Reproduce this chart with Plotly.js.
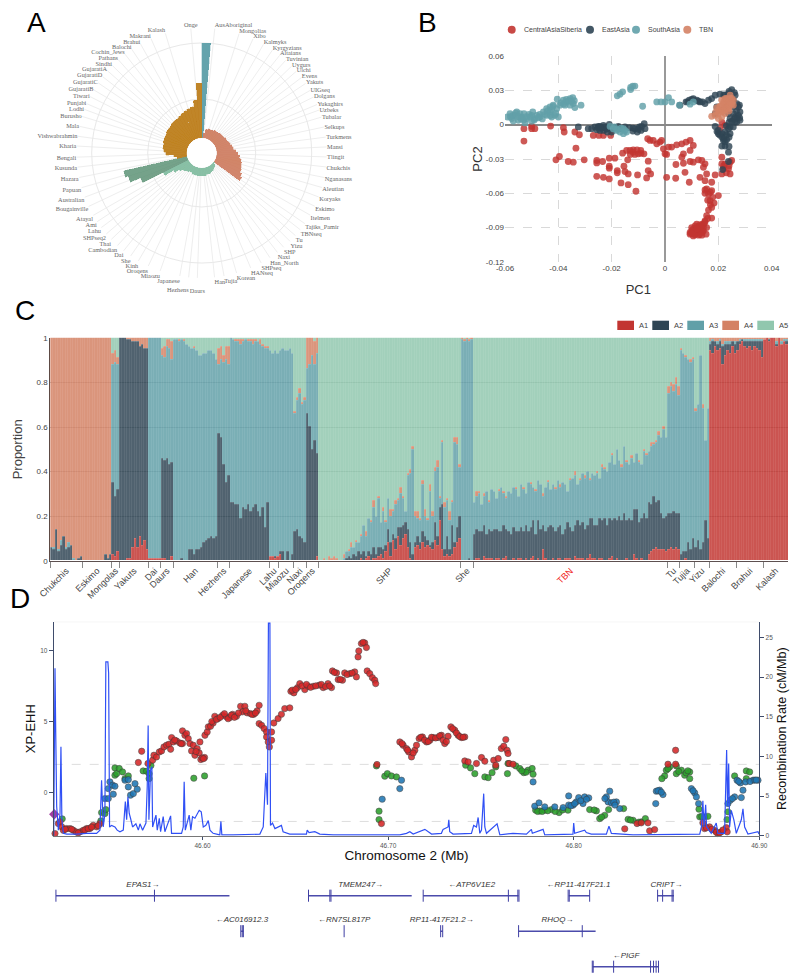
<!DOCTYPE html>
<html><head><meta charset="utf-8">
<script src="https://cdn.plot.ly/plotly-3.0.1.min.js"></script>
<style>html,body{margin:0;padding:0;background:#fff}</style></head>
<body><div id="chart" style="width:796px;height:980px"></div>
<script>
// ---- Panel A
const popNames=["AusAboriginal","Mongolias","Xibo","Kalmyks","Kyrgyzians","Altaians","Tuvinian","Uygurs","Ulchi","Evens","Yakuts","UIGseq","Dolgans","Yukaghirs","Uzbeks","Tubalar","Selkups","Turkmens","Mansi","Tlingit","Chukchis","Nganasans","Aleutian","Koryaks","Eskimo","Itelmen","Tajiks_Pamir","TBNseq","Tu","Yizu","SHP","Naxi","Han_North","SHPseq","HANseq","Korean","Tujia","Han","<br>Daurs","<br>Hezhens","Japanese","Miaozu","Oroqens","Kinh","She","Dai","Cambodian","Thai","SHPseq2","Lahu","Ami","Atayal","Bougainville","Australian","Papuan","Hazara","Kusunda","Bengali","Kharia","Vishwabrahmin","Mala","Burusho","Lodhi","Punjabi","Tiwari","GujaratiB","GujaratiC","GujaratiD","GujaratiA","Sindhi","Pathans","Cochin_Jews","Balochi","Brahui","Makrani","Kalash","Onge"];
const popAngles=[6,17.4,24.2,29.6,34.5,38.6,42.2,46,49.2,52.9,56.2,60,63.4,67.2,69.9,73.3,78,82.7,87.2,91.8,96.4,101.3,106,110.6,115.2,119.8,124.4,127.9,131.4,135,139,142.7,146.9,151.6,156.9,163.8,169.7,174.1,182,186,190.1,199.4,205.3,210.4,214.6,218.6,222.3,226.3,229.7,233.4,236.7,240.1,244.7,249.3,253.9,258.7,263.5,268.1,273.2,277.7,282.3,287,290.4,293.2,296.8,300.3,304.1,307.6,311.1,314.4,318.2,322.2,326,330.7,336.1,343.1,355];
const radTeal=[95];
const radSalmon=[5,9,10,10,10,11,11,11,12,12,12,13,13,14,15,16,17,19,21,23,25,26,27,28,30,32];
const radGreen=[1,3,4,5,6,6,7,7,7,8,8,8,8,8,8,8,8,7,7,8,9,10,13,18,28];
const radDarkGreen=[51,62,65];
const radBrown=[10,13,21,23,24,24,25,25,25,26,26,26,27,27,27,28,29,30,31,32,38,55];

// ---- Panel B (values x 1000)
const csX=[-52.9,-50,-52.9,-48.8,-50,-42.9,-38.1,-37.8,-33.8,-32.1,-33.4,-40.9,-39.6,-36.3,-34.4,-30.3,-25.6,-23.4,-25.6,-20.9,-18.8,-15.9,-20.9,-20.9,-25.6,-23.1,-20.9,-17.9,-17.9,-15.4,-15,-13.8,-16.5,-13.8,-10.3,-6.3,-5.4,-6.9,-10.9,-14,-14.4,-13.1,-11.9,-11.3,-10,-9.1,-7.9,-6.3,-26.9,-24.8,-23.1,-20.4,-6.5,-5.6,-4.4,-3.1,-1.9,-1.3,1.3,-.6,0,.6,2.5,4.4,6.3,7.9,9.4,10.6,9.4,6.9,6.3,9.4,10.6,12.5,13.8,15,14.4,4.1,6.9,7.5,.6,4,9.1,13.1,15,15.6,18.8,17.5,15.6,15,16.3,17.5,17.9,20,16.9,18.4,17.5,16.3,17.5,15.6,15,14.6,13.8,14.4,13.1,11.9,10.6,9.4,10,11.3,12.5,13.8,11.9,15.6,15.4,13.8,12.5,10.6,9.4,11.3,13.1,14.4,10.6,11.9,13.1,12.5,11.3,10,21.3,22.5,21.9,21.3,23.8,24.4,24.4,25,21.3,20.6,21.3,22.5,12,13,11,10,14,13,12,14,15,16,17,16,17,15,23,22,24,-12,-10.5,-9,-13];
const csY=[-3.5,-3.5,-14.3,-3.5,-1.5,-1.2,-2.6,-6.4,-6.4,-8.8,-20.5,-30.7,-27.8,-32.2,-32.8,-30.7,-31.3,-32.2,-33.4,-29.3,-29.3,-24.9,-38,-36.3,-45.1,-46,-47.4,-40.1,-42.1,-36.3,-41,-43,-50.9,-52.4,-43.9,-40.1,-43,-46.5,-58.2,-30.7,-22.5,-22.5,-22,-26,-25.5,-22.5,-25.5,-31.9,-9.4,-9.4,-9.4,-9.4,-12.3,-13.8,-13.8,-16.7,-15.2,-13.8,-19.6,-21.1,-25.5,-26,-19.6,-17.6,-16.7,-15.2,-13.8,-18.1,-22.5,-25.5,-28.4,-32.2,-32.8,-30.7,-31.3,-34.2,-37.2,-34.8,-33.7,-41.6,-46,-46.8,-50.3,-46,-48.9,-43,-43.9,-50.3,-56.2,-60,-60.6,-57.7,-63.5,-62,-66.4,-68.5,-72.3,-74.6,-81.6,-79.6,-84,-86.9,-88.4,-92.8,-94.2,-92.8,-94.2,-94.2,-89.9,-88.4,-89.9,-91.3,-86.9,-89.9,-95.7,-96.6,-96.6,-97.2,-95.7,-95.7,-91.3,-89.9,-91.3,-89.9,-87.5,-92.8,-92.8,-92.8,-34.2,-34.2,-38.6,-43,-38.6,-43,-32.8,-31.3,-28.4,-3.5,2.3,-.6,-94,-96,-96,-95,-94,-89,-91,-87,-85,-82,-70,-66,-59,-57,-42,-36,-36,-24,-22,-25,-26];
const eaX=[-32.5,-28.8,-27.5,-26.3,-25,-24.4,-23.1,-23.1,-21.9,-20.9,-20,-18.8,-17.5,-16.3,-15,-13.4,-12.1,-11.3,-10.4,-9.6,-8.8,-7.8,-7.5,-24.4,-25.6,-23.8,-22.5,-21.6,5.6,7.9,9.1,10.6,11.9,13.1,15,16.3,17.5,18.8,20.6,22.5,23.8,25,26.3,25.6,27.5,28.1,27.5,28.1,26.3,24.4,25.6,23.8,19.4,18.8,18.8,20,21.3,22.5,23.8,24.4,23.1,21.3,22.5,23.8,23.8,21.6,25.6,26.9,25.6,26.9,27.9,20,21.9,24.4,26.3,22,24,26,26.8,27,25,23,21.5,23,24,22,20.5,19.5,22.5,24,-24,-22,-25,-10,-12,-9,8.5,10,12.5,14,24,26,28];
const eaY=[-2,-3.5,-3.5,-2,-1.5,-5,-.6,-5,-3.5,.3,-6.4,-2.6,-1.5,-3.5,-2,-2.6,-5.6,-3.5,-6.4,-2,-1.5,.9,-3.5,-1.5,-4.4,-2.9,-2,-6.4,17,19.9,21.4,22.8,21.4,19.9,18.4,21.4,22.8,25.8,26.6,25.8,27.2,30.7,25.8,21.4,15.5,11.1,8.2,3.8,2.3,5.3,9.7,9.7,15.5,9.7,-1.5,-7.9,-10.8,-6.4,-3.5,-7.9,-13.2,-18.7,-18.7,-24,-32.2,-39.2,-2,2.3,15.5,18.4,17,-5,-13.8,-2,6.7,26,29,28,12,6,3,-1,-8,-9,-11,-12,-9,-6,-15,-19,-3,-4,-3,-4,-3,-5,20,22,20.5,20,2,5,6];
const saX=[-59.1,-58.1,-57.5,-56.3,-55.6,-55,-53.8,-52.9,-51.9,-50.6,-49.6,-48.1,-46.9,-45.6,-44.4,-43.1,-43.1,-41.9,-41.3,-40,-40.4,-39.4,-38.1,-36.9,-35.6,-34.6,-34.4,-33.8,-31.5,-54.4,-56.9,-52.5,-50,-48.8,-44.4,-42.5,-40.6,-37.5,-35.6,-17.9,-16.9,-15.9,-12.9,-12.1,-11.3,-12.9,-8.4,-3.1,-1.5,0,1.3,2.5,5.4,9.4,10.6,-20.6,-19.4,-18.1,-16.9,-15.6,-14.4,-15.6,-58,-57,-55,-54,-53,-51,-49,-47,-46,-45,-44,-42.5,-41,-42,-39,-38,-37,-36,-35,-34,-52,-50,-47.5,-56,-43,-16.5,-18,-19,-15];
const saY=[6.7,9.7,5.3,8.2,11.1,3.8,6.7,9.7,5.3,6.7,11.1,8.2,6.7,11.1,14,11.1,15.5,17,8.2,6.7,22.2,17,21.4,19.9,22.8,23.7,18.4,14.9,17,9.7,3.2,1.5,8.2,5.3,8.2,6.7,14,17,17,25.2,26.6,28.7,32.5,33.7,33.7,30.7,16.1,19.9,19.9,19.9,23.7,19.9,17,17.9,19.9,-1.5,-3.5,-5,-6.4,-3.5,-6.4,-7.9,7,8,7,5,4,9,4,9,5,9,12,13,10,16,19,18,22,21,20,21,7,3,6,10,8,-3,-4,-2,-5];
const tbnX=[17.5,18.8,20,21.3,22.5,19.4,20.6,21.9,23.1,24.4,22.5,21.3,23.8,25,25.6,23.8,22.5,21.3,20,24.4,23.1,21.9,20.6,25.6,22,23,24,25,23,22,21,24,20,19,25,24];
const tbnY=[7.3,8.2,9.7,11.1,14,14.9,16.1,18.4,21.4,22.8,22.8,21.4,18.4,19.9,17,14,9.7,6.7,5.3,25.8,17.9,14,12.6,21.4,20,23,20,23,15,12,16,16,13,11,18,12];
const pcNames=['CentralAsiaSiberia','EastAsia','SouthAsia','TBN'];
const pcColors=['#C23531','#2F4554','#61A0A8','#D48265'];

// ---- Panel C (percent per individual)
const groupNames=["Chukchis","Eskimo","Mongolas","Yakuts","Dai","Daurs","Han","Hezhens","Japanese","Lahu","Miaozu","Naxi","Oroqens","SHP","She","<span style=\"color:#f02020\">TBN</span>","Tu","Tujia","Yizu","Balochi","Brahui","Kalash"];
const groupSizes=[13,12,3,12,5,5,18,5,16,4,6,5,5,58,5,79,5,6,6,11,11,10];
const A1=[
0,0,0,0,0,0,0,0,0,0,0,0,0,
0,0,0,0,0,0,0,0,0,0,0,0,
3,2,4,
0,0,0,1,1,6,10,6,11,7,9,5,
1,1,1,1,1,
1,1,0,0,2,
0,0,0,0,0,0,0,0,0,0,0,0,0,0,0,0,0,0,
0,0,0,0,0,
0,0,0,0,0,0,0,0,0,0,0,0,0,0,0,0,
2,2,1,2,
3,0,0,0,0,0,
0,0,0,0,0,
0,0,0,0,2,
0,0,0,0,0,0,0,0,0,0,0,0,0,0,0,0,0,
1,0,1,2,0,1,1,2,3,1,4,8,2,9,5,11,
7,10,12,6,1,0,6,7,5,8,6,7,6,5,9,7,18,5,2,3,2,3,6,8,10,
0,0,0,0,0,
0,1,1,0,2,1,1,1,0,1,
1,0,1,2,0,0,1,0,1,1,
0,1,0,1,2,0,1,0,5,1,
0,0,1,0,1,1,0,1,1,1,
0,2,1,1,1,0,1,3,1,1,
0,1,1,0,0,1,2,0,1,0,
0,0,1,0,0,3,1,0,1,0,
0,3,4,5,6,5,5,5,4,
5,6,5,6,5,
0,0,1,0,0,0,
0,0,0,0,0,0,
94,93,96,94,95,88,92,94,93,96,93,
94,97,98,96,95,96,94,96,95,94,91,
99,100,98,100,100,96,100,97,98,97];
const A2=[
6,5,14,4,7,11,5,6,7,0,0,1,2,
0,0,0,0,0,0,0,0,0,3,1,3,
32,27,28,
100,100,100,98,98,92,88,92,85,90,86,90,
0,0,0,0,0,
45,44,46,43,42,
0,0,0,1,0,0,5,5,3,5,5,6,8,9,10,11,10,11,
57,55,43,35,38,
26,26,25,25,19,24,23,25,22,24,25,22,20,24,15,26,
0,0,1,0,
1,4,0,4,0,3,
13,14,11,10,8,
66,60,50,54,46,
0,0,0,0,0,0,0,0,0,0,0,1,2,1,3,2,4,
2,4,1,2,3,5,2,4,3,4,3,6,6,3,5,4,
8,6,5,8,7,3,2,4,3,5,5,2,1,3,8,4,6,20,3,8,3,13,2,7,10,
0,0,0,1,0,
12,13,12,13,14,11,13,12,14,13,
12,13,15,12,13,12,14,13,12,14,
13,15,13,14,16,12,17,14,11,12,
15,16,14,13,14,15,12,13,16,14,
13,14,17,15,16,14,15,16,18,15,
16,18,17,19,16,18,16,19,17,20,
18,21,17,19,18,20,22,17,18,21,
19,23,21,24,20,22,16,14,16,
16,15,17,15,16,
3,4,3,8,5,10,
6,9,5,8,18,10,
3,5,2,3,3,8,5,3,4,2,4,
4,1,1,2,3,2,4,2,3,4,7,
0,0,1,0,0,1,0,0,0,1];
const A3=[
0,1,0,1,2,0,1,2,0,1,0,0,0,
0,0,0,0,0,0,0,0,0,0,0,0,
53,60,56,
0,0,0,0,0,0,0,0,0,0,0,0,
99,99,99,99,99,
46,46,50,52,46,
99,99,98,98,98,97,91,90,92,89,87,86,85,84,84,83,83,79,
31,35,46,55,50,
74,73,73,73,78,74,76,73,76,73,73,76,77,72,80,69,
92,91,92,91,
90,91,94,90,95,90,
53,58,64,60,64,
20,28,42,34,45,
0,0,0,0,0,0,0,0,0,0,1,3,2,5,3,6,4,
8,12,9,15,14,18,17,22,11,17,10,14,12,10,15,12,
15,12,5,24,31,47,12,8,10,21,9,9,24,12,23,31,4,28,19,16,13,10,45,37,22,
99,98,99,97,99,
14,15,17,12,13,19,12,19,17,14,
18,20,14,14,18,18,18,19,16,19,
19,14,22,19,15,19,18,20,13,20,
20,16,19,19,21,17,23,20,14,21,
24,22,16,20,22,23,24,17,20,22,
23,18,24,22,24,25,29,24,32,25,
24,30,26,24,28,21,25,27,24,28,
28,23,26,23,27,29,34,40,35,
54,57,54,58,53,
91,89,87,82,84,80,
61,61,87,60,36,58,
1,1,0,1,1,1,1,1,1,0,1,
0,1,0,1,1,1,1,1,1,1,1,
0,0,0,0,0,1,0,1,1,1];
const A4=[
94,94,86,95,91,89,94,92,93,99,100,99,98,
100,100,100,100,100,100,100,100,100,97,99,97,
5,5,3,
0,0,0,1,1,2,2,2,4,3,5,5,
0,0,0,0,0,
3,5,3,4,8,
0,0,1,0,1,0,0,0,1,0,0,0,0,0,0,0,0,0,
7,6,3,6,8,
0,0,1,1,2,1,0,1,1,2,1,0,2,1,1,1,
0,0,0,0,
0,0,0,0,0,0,
1,1,2,1,1,
14,12,8,10,7,
0,0,1,0,2,1,2,1,0,0,2,0,1,2,0,1,0,
1,0,2,0,1,3,0,1,0,2,1,0,3,1,2,1,
3,1,0,1,2,1,2,3,1,2,3,1,3,2,2,3,1,1,2,1,4,1,2,3,1,
1,1,1,1,1,
0,2,1,0,1,0,1,0,0,0,
1,0,1,1,0,0,0,1,0,0,
1,0,0,1,0,1,0,0,1,0,
1,0,0,1,0,1,0,0,0,1,
0,2,0,1,0,1,0,1,0,0,
1,0,1,1,0,0,1,0,0,0,
1,0,1,0,1,0,0,1,0,1,
1,0,2,1,1,2,0,1,0,
3,2,3,3,4,
1,0,1,0,1,1,
1,0,0,2,0,0,
2,1,2,2,1,3,2,2,2,2,2,
2,1,1,1,1,1,1,1,1,1,1,
1,0,1,0,0,2,0,2,1,1];
const admixNames=['A1','A2','A3','A4','A5'];
const admixColors=['#C23531','#2F4554','#61A0A8','#D48265','#91C7AE'];

// ---- Panel D (kb after 46.5 Mb)
const redX=[20.5,22.3,23.2,24.1,25,26.8,28.6,30.4,31.8,34,35.7,37.5,39.3,41.1,42.9,44.7,65.4,67.2,70.6,73.1,73.8,75.2,76.7,77.9,79.2,80.6,81.9,82.8,83.3,84.2,86,87.8,89.2,89.2,90.5,91.4,92.3,93.2,94.1,95,95.9,97.1,98.2,98.6,99.1,101.1,101.3,102.5,103.1,104.3,105.7,106.6,108.4,110.8,112.9,114.7,116.2,118.3,120.5,122.8,121.5,124,125.8,127.6,129.4,130.5,130.5,131.8,133.2,134.5,134.5,135.4,136,137.2,137.2,138.4,140.7,142.5,144.3,147,147.6,149.2,151.2,152.4,155.1,156.9,159.6,162.8,165,167.6,169.5,170,172.2,173.1,175.4,176.6,179.3,182,182.9,183.8,184.2,185.6,187.4,188.3,188.7,190.1,191.5,192.8,193.3,194,196.4,206.3,208.1,209.9,211.1,212.6,214.4,215.3,216.7,218.5,220.7,222.5,224.3,226.9,228.7,230.5,232.3,233.8,235.9,237.7,239.5,241.3,241.3,243.1,247.6,250.3,252.1,256.9,259.3,258,261,262.3,263.4,264.1,264.6,265.2,267.3,327.5,334.1,336.4,340,340.9,343.6,350.8,354.9,354.9,369.6,370.5,373.2,375.9,377.7,379.5,382.2,382.7,105,107.5,109.5,111.8,113.8,115.5,117.2,119.4,123.3,126.7,128.5,148.3,150.2,153.6,156,158.2,161,164,166.3,168.5,171,174.2,177.9,180.6,186.5,85,88.5,96.5,99.8,100.5,207.5,210.5,213.5,217.6,219.6,221.6,223.4,225.6,227.8,229.6,231.4,234.8,236.8,238.6,240.4,26,29.5,33,36.6,38.4,40.2,43.8,371.5,374.5,376.8,378.6,380.4];
const redY=[-2.85,-2.15,-2.03,-2.38,-2.62,-2.5,-2.5,-2.62,-2.73,-2.73,-2.62,-2.5,-2.5,-2.27,-2.38,-2.15,2.13,2.92,2.06,2.29,2.64,2.52,2.87,2.94,3.22,3.34,3.41,3.06,3.88,3.57,3.64,3.5,3.46,4.35,4.04,4.16,3.81,3.46,2.94,3.34,2.64,3.11,2.8,3.57,2.34,2.48,4.04,4.27,4.63,4.67,4.9,5.37,5.21,5.44,5.33,5.28,5.51,5.37,6.07,6.07,5.68,5.61,5.56,5.51,5.75,6.14,4.86,4.74,4.51,4.27,3.92,3.57,3.22,3.69,4.27,4.9,5.21,5.51,5.91,5.96,7.12,7.01,7.38,7.66,7.24,7.47,7.47,7.55,7.38,7.66,7.38,8.55,8.41,7.94,7.9,8.41,8.36,8.48,8.13,9.53,9.95,10.47,10.51,10.19,8.55,8.36,8.08,7.9,7.66,1.99,-2.15,3.57,3.34,3.11,2.87,2.52,2.99,3.34,3.81,3.92,3.57,3.69,3.88,3.88,4.04,3.46,3.97,4.63,4.39,4.04,3.88,3.92,2.24,2.17,2.06,2.48,2.22,2.29,2.41,1.94,3.11,3.27,3.74,2.99,2.76,2.06,2.01,-2.52,-2.15,-2.1,-2.1,-2.66,-2.57,2.01,2.99,2.01,-2.1,-2.5,-2.38,-2.62,-2.85,-2.73,-2.43,-2.73,5,5.15,5.3,5.55,5.2,5.45,5.3,5.6,5.75,5.5,5.6,7.2,7.25,7.5,7.6,7.4,7.5,7.6,7.45,7.5,8.45,7.95,8.3,8.4,10.55,3.7,3.45,2.9,2.45,2.4,3.45,3,2.8,3.9,3.7,3.6,3.9,3.85,4,3.7,3.6,4.5,4.2,3.95,3.9,-2.55,-2.55,-2.8,-2.6,-2.5,-2.4,-2.3,-2.45,-2.55,-2.75,-2.8,-2.6];
const greenX=[24.4,45.2,45.6,47.4,47.9,52.8,52.8,53.7,55.1,56.9,58.2,60,68,69.8,71.2,71.2,72.2,95.3,101.1,193.7,195.1,195.1,198.2,199.6,201.8,204.5,241.8,244.4,246.7,252.1,253.9,256,258,264.3,264.6,268.8,270.9,273.1,275.4,277.6,278.1,279.5,281.7,284.4,288,292.1,296.9,308.6,312.2,314,316.7,318.8,326.9,329.3,332,336.4,338.6,349,349.9,351.7,355.3,355.3,358,359.8,362.5,362.5,367.9,370.5,372.3,367.5,382.6,383.1,386.7,393,393,394.8,280.6,283,286,290,294,311,315,330.6,335,347.5,350.8,356.6,360.6,361.5,369,274.3,272];
const greenY=[-1.82,-1.96,-1.38,-1.45,-1.17,1.75,1.24,1.35,1.71,1.47,1,1.19,1.54,1.52,1.35,1,1.92,1.03,1.19,1.89,-1.28,-1.87,1.17,1.35,1.19,1.12,1.94,1.75,1.35,1.12,1.07,1.42,1.82,1.35,2.06,1.89,1.71,1.42,1.59,1.71,1.31,-1.21,-1.26,-1.21,-1.17,-1.38,-1.21,-1.17,-1.26,-1.8,-1.57,-1.17,-1.1,-1.85,-1.92,-2.03,-1.8,1.19,1.59,1.82,1.89,1.35,1.59,1.24,1.47,1,-1.68,-1.68,-1.64,-1.14,-1.87,-1.33,1.19,1,1.54,1.47,-1.3,-1.3,-1.25,-1.3,-1.2,-1.2,-1.7,-1.9,-2.05,1,1.7,1.5,1.4,1.55,-1.65,1.45,1.55];
const blueX=[47.4,49.2,49.2,50.1,51.9,51.5,52.8,58.2,60,60,61.2,62.7,63.6,64.8,196.8,206.3,207.2,278.1,279,281.3,284.4,289.8,294.3,297.3,299.6,301.4,302.7,305,305.9,308.1,317.6,319.4,318.5,320.3,323,324.8,344.5,346.3,348.1,344.2,363.4,365.2,366.1,367.3,383.1,384.4,386.7,388,389.8,391.2,390.3,392.6,396.6,399.3,297.3,298.5,300.5,303.8,306.9,316.8,321.6,322.2,345.4,347.2,364.3,388.9,395,397.6,398.4,385.5];
const blueY=[-.4,-.4,.3,.77,-.09,.54,.47,.89,.93,.42,-.16,-.05,.65,.26,-.44,.3,.89,.77,-.93,-.7,-.98,-.98,-1.03,-.21,-.86,-.63,-.33,-.75,-.28,-.35,-.28,.12,-.63,-.7,-.63,-1.1,.12,.19,-.12,-.75,.3,0,-.28,-.75,-.75,-.51,-.28,.89,.7,.19,-.33,.77,.89,.89,-.85,-.9,-.75,-.55,-.45,-.4,-.65,-.85,.15,.05,.15,.8,.8,.9,.9,-.4];
const rateX=[19.8,20.2,20.5,20.9,21.4,22.3,23.2,23.7,24.2,25,26.8,32.1,37.5,42.9,44.7,45.6,46.5,47.4,47.9,49,49.4,49.9,51,52.8,54,55.5,57.3,58.4,59.1,59.8,60.5,61.2,62.3,64.1,65.4,66.3,67.7,69.5,70.2,70.7,71.1,72,72.7,73.1,74.9,75.6,76.7,77.4,78.8,79.7,80.6,82.8,83.3,86,88.7,89.6,90.1,90.7,91.7,92.8,93.7,94.6,95.9,97.1,98.2,99.3,100.4,101.8,103.1,104,105.7,109.3,109.9,110.4,116.5,130.9,132.7,134.1,135,135.5,136.3,136.6,137.7,139,140.7,142.5,143.4,147,156,156.4,157.4,160.5,163.2,170.4,206.3,209.9,211.7,213.5,219.8,221.6,223.4,228.7,229.6,232.3,232.7,233.2,235,244.9,246.1,247.6,248.5,249.4,250.3,251.5,252.1,253,258.7,260.2,267.3,274.5,277.2,277.7,283.5,284.4,299.6,300,300.5,305.9,306.8,309.5,317.6,319,320.3,332,367.9,368.8,369.6,370.2,371.1,371.6,374.1,376.8,377.7,381.3,382.4,382.9,383.5,384,384.9,386.3,387.6,390.3,391.2,392.1,393.9,399.3,399.8];
const rateY=[0,17.1,21.1,12.9,3.7,.7,2.8,11.2,2,.3,.2,.2,.3,.3,.7,7,1.1,2.8,21.9,21.9,20.5,1.1,1.3,1.1,.7,.5,.7,4.3,2,4.9,2.8,2.2,1.1,1.5,.7,1.5,.7,1.6,6.2,13.9,2,8.3,8.7,1.1,2.6,.7,2.2,.5,2.4,.5,1.1,2.5,.3,.3,.3,1.1,6.8,.7,1.6,2.6,.7,2.4,2.2,2.8,3.2,3,1.1,1.3,1.9,.7,.3,.1,1.8,.1,.1,.2,1.1,7.9,3.9,26.8,26.8,1.3,1.6,.9,1.1,1.3,.5,.2,.2,.7,.4,.5,.2,.1,.1,.3,.5,.2,.8,.5,.2,.3,.8,1.1,2,.5,.2,.3,1.3,1.1,2.3,.3,.7,5.3,1.1,.3,1.5,.1,.3,.2,.8,.3,.8,.1,.2,1.6,.3,.7,.4,.2,.2,1.2,.3,.1,.2,1.1,4.4,1.1,3.9,1.1,.3,1.6,.3,.3,10.8,3.7,9.1,1.1,3.2,2,.3,2,3.4,1.1,.2,.5,.2];
// genes: name, row, start, end (kb after 46.5 Mb), exons
const geneLabels=["EPAS1→","TMEM247→","←ATP6V1E2","←RP11-417F21.1","CRIPT→","←AC016912.3","←RN7SL817P","RP11-417F21.2→","RHOQ→","←PIGF"];
const geneLabelX=[67.9,185.2,245,302.6,350,121.2,176.3,228.9,291.3,328.2];
const geneRow=[1,1,1,1,1,2,2,2,2,3];
const geneStart=[21,157.1,218.9,297.3,345.2,120.8,176.3,228.3,270.3,310.2];
const geneEnd=[114.5,212.7,270.3,308.6,354,122,176.3,229.4,311.8,345.7];
const geneExons=[[21,74.1],[157.1,168.6,169.2],[218.9,264.8,269.9,270.5],[297,297.6,308.6],[345.2,347.9,353,353.6],[120.6,121.4,122],[176.3],[228.3,229.4],[270.3,304.6],[310,310.5,321.5,341.4,343,344.4,345.7]];

const mb=a=>a.map(v=>46.5+v/1000);
const th=a=>a.map(v=>v/1000);
const frac=a=>a.map(v=>v/100);
const sans='"Liberation Sans",Arial,sans-serif';
const traces=[];

// A
const barAngle=i=>2.34+i*360/77;
const addPolar=(from,r,color)=>traces.push({type:'barpolar',theta:r.map((_,k)=>barAngle(from+k)),width:360/77,r:r,subplot:'polar',showlegend:false,marker:{color:color,line:{color:color,width:.3},opacity:.95}});
addPolar(0,radTeal,'#5c9fa8');
addPolar(1,radSalmon,'#cf8066');
addPolar(27,radGreen,'#85bda2');
addPolar(52,radDarkGreen,'#6e9f85');
addPolar(55,radBrown,'#bd7f1e');

// B
[[csX,csY],[eaX,eaY],[saX,saY],[tbnX,tbnY]].forEach((p,k)=>traces.push({type:'scatter',mode:'markers',name:pcNames[k],x:th(p[0]),y:th(p[1]),xaxis:'x',yaxis:'y',showlegend:false,marker:{color:pcColors[k],size:6.8,opacity:.82}}));

// C
const A5=A1.map((v,i)=>Math.max(0,100-v-A2[i]-A3[i]-A4[i]));
const barX=A1.map((_,i)=>i);
[A1,A2,A3,A4,A5].forEach((a,k)=>traces.push({type:'bar',name:admixNames[k],x:barX,y:frac(a),xaxis:'x2',yaxis:'y2',showlegend:false,marker:{color:admixColors[k],opacity:.84,line:{color:'rgba(255,255,255,.14)',width:.5}}}));
let cum=0;const groupCenters=[],groupEdges=[];
groupSizes.forEach(n=>{groupEdges.push(cum-.5);groupCenters.push(cum+n/2-.5);cum+=n;});

// D
const addXP=(x,y,c)=>traces.push({type:'scatter',mode:'markers',x:mb(x),y:y,xaxis:'x3',yaxis:'y3',showlegend:false,cliponaxis:false,marker:{color:c,size:6.3,opacity:.88,line:{color:'#3a3a3a',width:.6}}});
addXP(greenX,greenY,'#2ca02c');addXP(blueX,blueY,'#1f77b4');addXP(redX,redY,'#d62728');
traces.push({type:'scatter',mode:'markers',x:mb([20.1]),y:[-1.5],xaxis:'x3',yaxis:'y3',showlegend:false,cliponaxis:false,marker:{color:'#a03ca0',size:8,symbol:'diamond'}});
traces.push({type:'scatter',mode:'lines',x:mb(rateX),y:rateY,xaxis:'x3',yaxis:'y4',showlegend:false,line:{color:'#3050f5',width:1.2}});

// genes
const gl={x:[],y:[]},ge={x:[],y:[]};
geneRow.forEach((r,i)=>{
  gl.x.push(geneStart[i],geneEnd[i],null);gl.y.push(r,r,null);
  geneExons[i].forEach(e=>{ge.x.push(e,e,null);ge.y.push(r-.17,r+.17,null);});
});
const gmb=a=>a.map(v=>v===null?null:46.5+v/1000);
traces.push({type:'scatter',mode:'lines',x:gmb(gl.x),y:gl.y,xaxis:'x5',yaxis:'y5',showlegend:false,line:{color:'#4b4bab',width:1.6}});
traces.push({type:'scatter',mode:'lines',x:gmb(ge.x),y:ge.y,xaxis:'x5',yaxis:'y5',showlegend:false,line:{color:'#3f3fa3',width:1}});
traces.push({type:'scatter',mode:'text',x:mb(geneLabelX),y:geneRow.map(r=>r-.31),text:geneLabels.map(t=>'<i>'+t+'</i>'),textposition:'middle center',textfont:{family:sans,size:8,color:'#333'},xaxis:'x5',yaxis:'y5',showlegend:false});

const W=796,H=980;
const dx=(a,b)=>[a/W,b/W], dy=(t,b)=>[1-b/H,1-t/H];
const letter=(t,x,y)=>({text:t,xref:'paper',yref:'paper',x:x/W,y:1-y/H,showarrow:false,xanchor:'center',yanchor:'middle',font:{family:sans,size:28,color:'#000'}});
const legendText=(t,x,y,s)=>({text:t,xref:'paper',yref:'paper',x:x/W,y:1-y/H,showarrow:false,xanchor:'left',yanchor:'middle',font:{family:sans,size:s,color:'#444'},borderpad:0});
const D_RANGE=[46.5198,46.90];
const axC='#3f4c6b';

// hand-placed legends (spacing tighter than Plotly's own legend allows)
const pcLegendCx=[511.7,590,636,687.3], pcLegendTx=[522.7,600.7,647.3,698.3];
const admixSwatchX=[617.3,652.3,687.3,722.3,757.3], admixTextX=[637.7,672.7,707.7,742.7,777.7];
const legendShapes=[], legendAnn=[];
pcNames.forEach((n,k)=>{
  legendShapes.push({type:'circle',xref:'paper',yref:'paper',x0:(pcLegendCx[k]-4)/W,x1:(pcLegendCx[k]+4)/W,y0:1-33.7/H,y1:1-25.7/H,fillcolor:pcColors[k],line:{width:0},opacity:.9});
  legendAnn.push(legendText(n,pcLegendTx[k],29.7,7));
});
admixNames.forEach((n,k)=>{
  legendShapes.push({type:'rect',xref:'paper',yref:'paper',x0:admixSwatchX[k]/W,x1:(admixSwatchX[k]+16.7)/W,y0:1-330/H,y1:1-320.7/H,fillcolor:admixColors[k],line:{width:0}});
  legendAnn.push(legendText(n,admixTextX[k],325.3,7.5));
});

Plotly.newPlot('chart',traces,{
  width:W,height:H,margin:{l:0,r:0,t:0,b:0,autoexpand:false},paper_bgcolor:'#fff',plot_bgcolor:'rgba(0,0,0,0)',
  font:{family:sans,color:'#444'},barmode:'stack',bargap:0,showlegend:false,
  polar:{domain:{x:dx(76.7,326.7),y:dy(28,278)},hole:.12,bgcolor:'rgba(0,0,0,0)',barmode:'overlay',
    radialaxis:{range:[0,110],tickvals:[39,95],showticklabels:false,ticks:'',showline:false,gridcolor:'#e8e8e8',gridwidth:1},
    angularaxis:{type:'linear',thetaunit:'degrees',direction:'clockwise',rotation:90,tickmode:'array',tickvals:popAngles,ticktext:popNames,ticks:'',showline:false,gridcolor:'#eeeeee',gridwidth:1,tickfont:{family:'"Liberation Serif",serif',size:6.3,color:'#666'}}},
  xaxis:{domain:dx(505,771.7),range:[-.06,.04],tickvals:[-.06,-.04,-.02,0,.02,.04],ticktext:['-0.06','-0.04','-0.02','0','0.02','0.04'],griddash:'dash',gridcolor:'#d9d9d9',zeroline:true,zerolinecolor:'#999',zerolinewidth:1.5,tickfont:{size:8,color:'#444'},ticks:'',title:{text:'PC1',font:{size:13,color:'#333'},standoff:12},anchor:'y',showline:false},
  yaxis:{domain:dy(56,262),range:[-.12,.06],tickvals:[-.12,-.09,-.06,-.03,0,.03,.06],ticktext:['-0.12','-0.09','-0.06','-0.03','0','0.03','0.06'],griddash:'dash',gridcolor:'#d9d9d9',zeroline:true,zerolinecolor:'#888',zerolinewidth:1.5,tickfont:{size:8,color:'#444'},ticks:'',title:{text:'PC2',font:{size:13,color:'#333'},standoff:0},anchor:'x',showline:false},
  xaxis2:{domain:dx(50.3,788),range:[-.5,299.5],tickmode:'array',tickvals:groupCenters,ticktext:groupNames,tickangle:-45,ticklen:0,tickfont:{size:9,color:'#444'},showgrid:false,showline:true,linecolor:'#5d5050',linewidth:1.2,zeroline:false,anchor:'y2',
    minor:{tickmode:'array',tickvals:groupEdges,ticks:'outside',ticklen:6,tickcolor:'#888',showgrid:false}},
  yaxis2:{domain:dy(337.7,561),range:[0,1],tickvals:[0,.2,.4,.6,.8,1],ticktext:['0','0.2','0.4','0.6','0.8','1'],tickfont:{size:8,color:'#444'},gridcolor:'#bbb',showline:true,linecolor:'#5d4a44',linewidth:1.2,ticks:'',title:{text:'Proportion',font:{size:13,color:'#444'},standoff:10},anchor:'x2',zeroline:false},
  xaxis3:{domain:dx(53.7,759.3),range:D_RANGE,tickvals:[46.6,46.7,46.8,46.9],ticktext:['46.60','46.70','46.80','46.90'],tickfont:{size:6.5,color:'#555'},ticks:'outside',ticklen:3,tickcolor:axC,showgrid:false,showline:true,linecolor:'#777',zeroline:false,anchor:'y3',title:{text:'Chromosome 2 (Mb)',font:{size:13.5,color:'#111'},standoff:1}},
  yaxis3:{domain:dy(621.7,835.7),range:[-3,12],tickvals:[0,5,10],tickfont:{size:6.5,color:'#555'},ticks:'outside',ticklen:4,tickcolor:axC,showgrid:false,showline:true,linecolor:axC,zeroline:false,anchor:'x3',title:{text:'XP-EHH',font:{size:13,color:'#111'},standoff:1}},
  yaxis4:{domain:dy(621.7,835.7),overlaying:'y3',side:'right',range:[0,26.97],tickvals:[0,5,10,15,20,25],tickfont:{size:6.5,color:'#555'},ticks:'outside',ticklen:4,tickcolor:axC,showgrid:false,showline:true,linecolor:axC,zeroline:false,anchor:'x3',title:{text:'Recombination Rate (cM/Mb)',font:{size:12.5,color:'#111'},standoff:5}},
  xaxis5:{domain:dx(53.7,759.3),range:D_RANGE,visible:false,anchor:'y5'},
  yaxis5:{domain:dy(875,975),range:[3.234,.417],visible:false,anchor:'x5'},
  shapes:legendShapes.concat([
    {type:'line',xref:'x3',yref:'y3',x0:D_RANGE[0],x1:D_RANGE[1],y0:2,y1:2,line:{color:'#ddd',width:1,dash:'dash'},layer:'below'},
    {type:'line',xref:'x3',yref:'y3',x0:D_RANGE[0],x1:D_RANGE[1],y0:-2,y1:-2,line:{color:'#ddd',width:1,dash:'dash'},layer:'below'},
    {type:'line',xref:'x3',yref:'y3',x0:D_RANGE[0],x1:D_RANGE[1],y0:12,y1:12,line:{color:'#e6e6e6',width:1},layer:'below'}
  ]),
  annotations:legendAnn.concat([letter('A',36,23),letter('B',427,23),letter('C',25,311),letter('D',20,598)])
},{displayModeBar:false,responsive:false});
</script></body></html>
